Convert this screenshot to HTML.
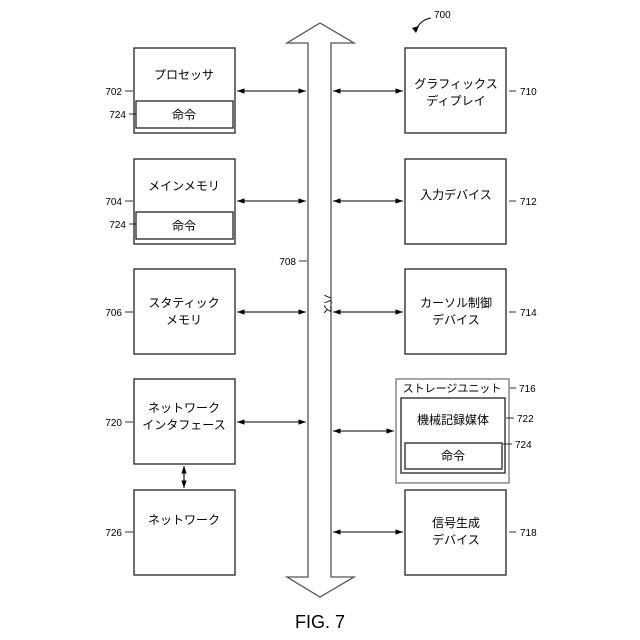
<!DOCTYPE html><html><head><meta charset="utf-8"><style>html,body{margin:0;padding:0;background:#fff}svg{display:block}</style></head><body>
<svg width="640" height="640" viewBox="0 0 640 640" xmlns="http://www.w3.org/2000/svg" font-family="Liberation Sans, Noto Sans CJK JP, sans-serif">
<defs><marker id="a" viewBox="0 0 10 10" refX="10" refY="5" markerWidth="7" markerHeight="7" orient="auto-start-reverse"><path d="M0,1.5 L10,5 L0,8.5z" fill="#000"/></marker></defs>
<g fill="none" stroke="#222" stroke-width="1.3">
<path d="M308,577 V43 H287 L320,23 L354,43 H331 V577 H354 L320,597 L287,577 Z" stroke="#555"/>
<rect x="134" y="48" width="101" height="85"/><rect x="136" y="101" width="97" height="27"/>
<rect x="134" y="159" width="101" height="85"/><rect x="136" y="212" width="97" height="27"/>
<rect x="134" y="269" width="101" height="85"/>
<rect x="134" y="379" width="101" height="85"/>
<rect x="134" y="490" width="101" height="85"/>
<rect x="405" y="48" width="101" height="85"/>
<rect x="405" y="159" width="101" height="85"/>
<rect x="405" y="269" width="101" height="85"/>
<rect x="396" y="379" width="113" height="104" stroke="#777"/>
<rect x="401" y="398" width="104" height="75"/>
<rect x="405" y="443" width="97" height="26"/>
<rect x="405" y="490" width="101" height="85"/>
</g>
<g stroke="#000" stroke-width="1.1" marker-start="url(#a)" marker-end="url(#a)">
<line x1="237" y1="91" x2="306" y2="91"/><line x1="333" y1="91" x2="403" y2="91"/>
<line x1="237" y1="201" x2="306" y2="201"/><line x1="333" y1="201" x2="403" y2="201"/>
<line x1="237" y1="312" x2="306" y2="312"/><line x1="333" y1="312" x2="403" y2="312"/>
<line x1="237" y1="422" x2="306" y2="422"/><line x1="333" y1="431" x2="394" y2="431"/>
<line x1="333" y1="532" x2="403" y2="532"/>
<line x1="184" y1="466" x2="184" y2="488"/>
</g>
<g stroke="#000" stroke-width="0.8">
<line x1="125" y1="91" x2="133" y2="91"/><line x1="129" y1="114" x2="136" y2="114"/>
<line x1="125" y1="201" x2="133" y2="201"/><line x1="129" y1="224" x2="136" y2="224"/>
<line x1="125" y1="312" x2="133" y2="312"/><line x1="125" y1="422" x2="133" y2="422"/><line x1="125" y1="532" x2="133" y2="532"/>
<line x1="299" y1="261" x2="307" y2="261"/>
<line x1="509" y1="91" x2="516" y2="91"/><line x1="509" y1="201" x2="516" y2="201"/><line x1="509" y1="312" x2="516" y2="312"/>
<line x1="510" y1="388" x2="516" y2="388"/><line x1="506" y1="418" x2="514" y2="418"/><line x1="503" y1="444" x2="512" y2="444"/>
<line x1="509" y1="532" x2="516" y2="532"/>
</g>
<path d="M431,18 Q420,20 416,30" fill="none" stroke="#000"/><path d="M412,28 L416,33 L419,26z" fill="#000"/>
<g font-size="10" fill="#000" text-anchor="end">
<text x="122" y="95">702</text><text x="126" y="118">724</text>
<text x="122" y="205">704</text><text x="126" y="228">724</text>
<text x="122" y="316">706</text><text x="122" y="426">720</text><text x="122" y="536">726</text>
<text x="296" y="265">708</text>
</g>
<g font-size="10" fill="#000">
<text x="434" y="18">700</text>
<text x="520" y="95">710</text><text x="520" y="205">712</text><text x="520" y="316">714</text>
<text x="519" y="392">716</text><text x="517" y="422">722</text><text x="515" y="448">724</text><text x="520" y="536">718</text>
</g>
<g font-size="12" fill="#000" text-anchor="middle">
<text x="184" y="79">プロセッサ</text><text x="184" y="119">命令</text>
<text x="184" y="190">メインメモリ</text><text x="184" y="230">命令</text>
<text x="184" y="307">スタティック</text><text x="184" y="324">メモリ</text>
<text x="184" y="412">ネットワーク</text><text x="184" y="429">インタフェース</text>
<text x="184" y="524">ネットワーク</text>
<text x="456" y="88">グラフィックス</text><text x="456" y="105">ディプレイ</text>
<text x="456" y="199">入力デバイス</text>
<text x="456" y="307">カーソル制御</text><text x="456" y="324">デバイス</text>
<text x="452" y="392" font-size="11">ストレージユニット</text>
<text x="453" y="424">機械記録媒体</text><text x="453" y="460">命令</text>
<text x="456" y="527">信号生成</text><text x="456" y="544">デバイス</text>
<text x="320" y="300" font-size="10" transform="rotate(90 320 304)">バス</text>
<text x="320" y="628" font-size="18" font-family="Liberation Sans, sans-serif">FIG. 7</text>
</g>
</svg>
</body></html>
